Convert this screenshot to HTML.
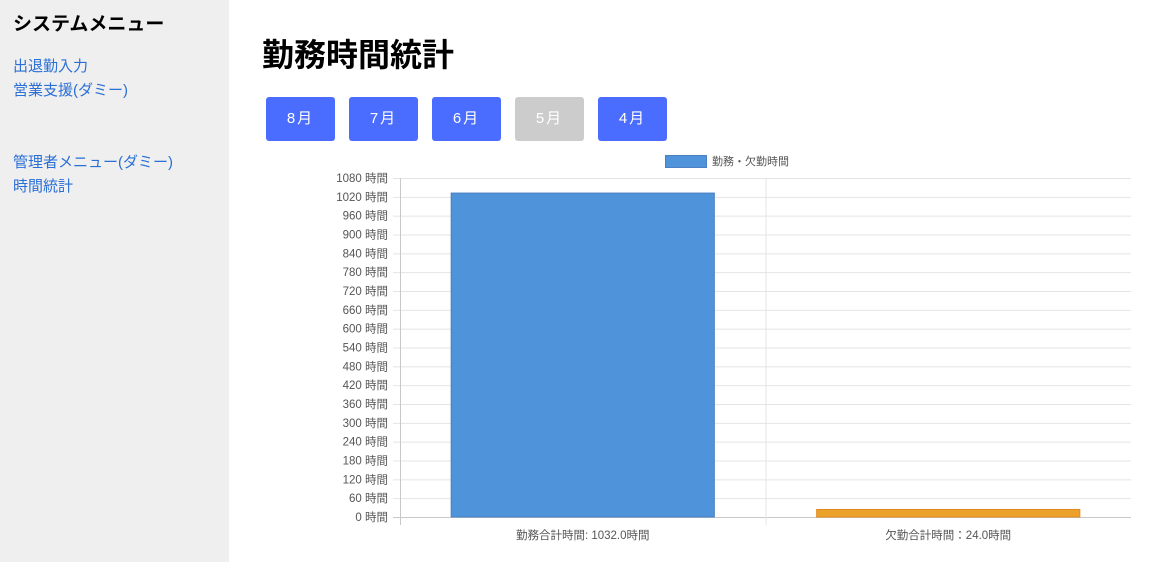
<!DOCTYPE html>
<html><head><meta charset="utf-8">
<style>
body{margin:0;width:1153px;height:562px;overflow:hidden;font-family:"Liberation Sans","Noto Sans CJK JP",sans-serif;background:#fff;position:relative}
#side{position:absolute;left:0;top:0;width:229px;height:562px;background:#efefef}
#side h3{position:absolute;left:13px;top:9px;margin:0;font-size:19px;font-weight:bold;color:#000}
#side a{position:absolute;left:13px;font-size:15px;color:#2a6fd6;text-decoration:none}
h1{position:absolute;left:262px;top:30px;margin:0;font-size:32px;font-weight:bold}
.btn{position:absolute;top:97px;width:69px;height:44px;border-radius:3px;background:#4a6dff;color:#fff;font-size:15px;text-align:center;line-height:44px;letter-spacing:2px}
.btn.dis{background:#cccccc}
svg{position:absolute;left:0;top:0}
</style></head><body>
<div id="side">
<h3>システムメニュー</h3>
<a style="top:55px">出退勤入力</a>
<a style="top:79px">営業支援(ダミー)</a>
<a style="top:151px">管理者メニュー(ダミー)</a>
<a style="top:175px">時間統計</a>
</div>
<h1>勤務時間統計</h1>
<div class="btn" style="left:266px">8月</div>
<div class="btn" style="left:349px">7月</div>
<div class="btn" style="left:432px">6月</div>
<div class="btn dis" style="left:515px">5月</div>
<div class="btn" style="left:598px">4月</div>
<svg id="chart" width="1153" height="562"></svg>
<script>
const categories=["勤務合計時間: 1032.0時間","欠勤合計時間：24.0時間"];
const values=[1032,24];
const colors=["#4f93db","#eba12a"];
const borders=["#4a7fc0","#e08a20"];
const ticks=[0,60,120,180,240,300,360,420,480,540,600,660,720,780,840,900,960,1020,1080];
const legendLabel="勤務・欠勤時間";
const NS="http://www.w3.org/2000/svg";
const svg=document.getElementById('chart');
const X0=400,X1=1131,Y0=517,Y1=178,YMAX=1080;
const y=v=>Y0-(v/YMAX)*(Y0-Y1);
const cw=(X1-X0)/categories.length;
const xc=i=>X0+cw*(i+0.5);
function mk(t,a){const e=document.createElementNS(NS,t);for(const k in a)e.setAttribute(k,a[k]);svg.appendChild(e);return e;}
ticks.forEach(t=>{
 const g=mk('line',{x1:393,x2:X1,y1:y(t)+0.5,y2:y(t)+0.5,stroke:t===0?'#c8c8c8':'#e4e4e4'});
 
 
 const l=mk('text',{x:388,y:y(t)+4,'text-anchor':'end','font-size':11.5,fill:'#555'});
 l.textContent=t+' 時間';
 
 
});
for(let i=0;i<categories.length;i++){
 const xl=X0+cw*i;
 const v=mk('line',{x1:xl+0.5,x2:xl+0.5,y1:Y1,y2:Y0+8,stroke:i===0?'#c8c8c8':'#e4e4e4'});
 
 
}
categories.forEach((c,i)=>{
 const bw=cw*0.72;
 const r=mk('rect',{x:xc(i)-bw/2,y:y(values[i]),width:bw,height:Y0-y(values[i]),fill:colors[i],stroke:borders[i],'stroke-width':1});
 
 
 const t=mk('text',{x:xc(i),y:539,'text-anchor':'middle','font-size':11.5,fill:'#555'});
 t.textContent=c;
 
 
});
const lb=mk('rect',{x:665.5,y:155.5,width:41,height:12,fill:colors[0],stroke:borders[0]});


const lt=mk('text',{x:712,y:165,'font-size':11,fill:'#555'});
lt.textContent=legendLabel;


</script>
</body></html>
